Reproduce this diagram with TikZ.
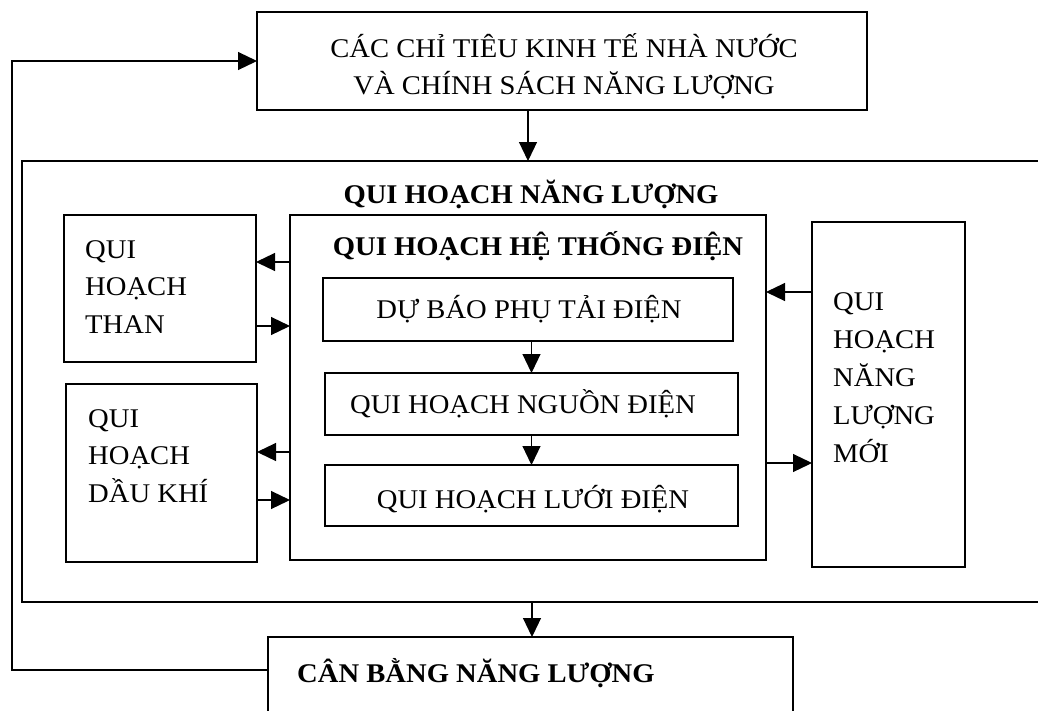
\documentclass[tikz,border=0pt]{standalone}
\usepackage{fontspec}
\setmainfont{Liberation Serif}[FakeStretch=1.06]
\usetikzlibrary{arrows.meta}
\newcommand{\vlines}[2]{\vtop{\baselineskip=#1\relax\halign{##\hfil\cr#2\crcr}}}
\newcommand{\clines}[2]{\vtop{\baselineskip=#1\relax\halign{\hfil##\hfil\cr#2\crcr}}}
\begin{document}
\begin{tikzpicture}[x=1pt,y=-1pt,
  ln/.style={line width=1.7pt},
  box/.style={draw, line width=1.7pt, inner sep=0pt, outer sep=0pt},
  frame/.style={draw=none, inner sep=0pt, outer sep=0pt},
  txt/.style={inner sep=0pt, font=\fontsize{27pt}{37pt}\selectfont},
  arr/.style={line width=1.2pt, -{Triangle[length=19pt,width=18pt]}}
]
\useasboundingbox[fill=white] (0,0) rectangle (1038,710);

% boxes
\node[box, minimum width=610pt, minimum height=98pt] (top) at (562,61) {};
\node[frame, minimum width=1016pt, minimum height=441pt] (big) at (530,381.5) {};
\draw[ln] (big.north east) -- (big.north west) -- (big.south west) -- (big.south east);
\node[box, minimum width=192pt, minimum height=147pt] (than) at (160,288.5) {};
\node[box, minimum width=191pt, minimum height=178pt] (dau) at (161.5,473) {};
\node[box, minimum width=476pt, minimum height=345pt] (he) at (528,387.5) {};
\node[box, minimum width=410pt, minimum height=63pt] (dubao) at (528,309.5) {};
\node[box, minimum width=413pt, minimum height=62pt] (nguon) at (531.5,404) {};
\node[box, minimum width=413pt, minimum height=61pt] (luoi) at (531.5,495.5) {};
\node[box, minimum width=153pt, minimum height=345pt] (moi) at (888.5,394.5) {};
\node[frame, minimum width=525pt, minimum height=76pt] (can) at (530.5,675) {};
\draw[ln] (can.south west) -- (can.north west) -- (can.north east) -- (can.south east);

% texts
\node[txt, anchor=base] (ttop) at (564,57) {\clines{37pt}{CÁC CHỈ TIÊU KINH TẾ NHÀ NƯỚC\cr VÀ CHÍNH SÁCH NĂNG LƯỢNG}};
\node[txt, anchor=base, font=\fontsize{27pt}{37pt}\selectfont\bfseries] (tbig) at (531,203) {QUI HOẠCH NĂNG LƯỢNG};
\node[txt, anchor=base, font=\fontsize{27pt}{37pt}\selectfont\bfseries] (the) at (538,255) {QUI HOẠCH HỆ THỐNG ĐIỆN};
\node[txt, anchor=base] (tdubao) at (529,318) {DỰ BÁO PHỤ TẢI ĐIỆN};
\node[txt, anchor=base] (tnguon) at (523,413) {QUI HOẠCH NGUỒN ĐIỆN};
\node[txt, anchor=base] (tluoi) at (533,508) {QUI HOẠCH LƯỚI ĐIỆN};
\node[txt, anchor=base west] (tthan) at (85,258) {\vlines{37.5pt}{QUI\cr HOẠCH\cr THAN}};
\node[txt, anchor=base west] (tdau) at (88,427) {\vlines{37.5pt}{QUI\cr HOẠCH\cr DẦU KHÍ}};
\node[txt, anchor=base west] (tmoi) at (833,310) {\vlines{38pt}{QUI\cr HOẠCH\cr NĂNG\cr LƯỢNG\cr MỚI}};
\node[txt, anchor=base west, font=\fontsize{27pt}{37pt}\selectfont\bfseries] (tcan) at (297,682) {CÂN BẰNG NĂNG LƯỢNG};

% levels
\coordinate (a1) at (0,262);
\coordinate (a2) at (0,326);
\coordinate (a3) at (0,452);
\coordinate (a4) at (0,500);
\coordinate (a5) at (0,292);
\coordinate (a6) at (0,463);
\coordinate (fbx) at (12,0);
\coordinate (fby) at (0,670);
\coordinate (vx1) at (528,0);
\coordinate (vx2) at (532,0);

% connectors
\draw[arr] (he.west |- a1) -- (than.east |- a1);
\draw[arr] (than.east |- a2) -- (he.west |- a2);
\draw[arr] (he.west |- a3) -- (dau.east |- a3);
\draw[arr] (dau.east |- a4) -- (he.west |- a4);
\draw[arr] (moi.west |- a5) -- (he.east |- a5);
\draw[arr] (he.east |- a6) -- (moi.west |- a6);
\draw[arr] (top.south -| vx1) -- (big.north -| vx1);
\draw[arr] (big.south -| vx2) -- (can.north -| vx2);
\draw[arr] (dubao.south -| nguon.north) -- (nguon.north);
\draw[arr] (nguon.south) -- (luoi.north);
\draw[arr] (can.west |- fby) -| (fbx |- top.west) -- (top.west);
\end{tikzpicture}
\end{document}
